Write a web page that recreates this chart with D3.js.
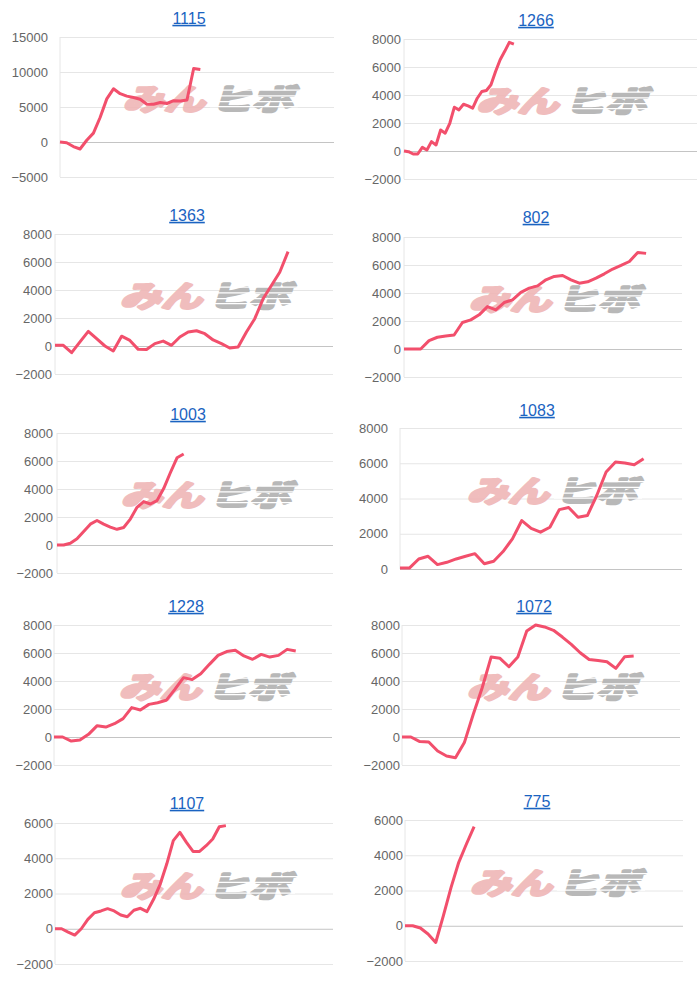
<!DOCTYPE html>
<html>
<head>
<meta charset="utf-8">
<script src="https://cdn.jsdelivr.net/npm/d3@7"></script>
<style>
  body { margin: 0; background: #fff; }
  svg { display: block; }
</style>
</head>
<body>
<svg id="frame" width="700" height="982"></svg>
<script>

// one series per stock (cumulative P/L)
const titles = ["1115", "1266", "1363", "802", "1003", "1083", "1228", "1072", "1107", "775"]

const s1115 = [0, -100, -650, -1000, 250, 1270, 3500, 6160, 7600, 6900, 6550, 6350, 6100, 5400, 5400, 5650, 5500, 5900, 5850, 6000, 10500, 10350]
const s1266 = [0, -50, -215, -215, 260, 70, 670, 430, 1500, 1270, 1980, 3130, 2940, 3340, 3220, 3060, 3770, 4250, 4320, 4730, 5680, 6520, 7120, 7760, 7640]
const s1363 = [50, 50, -475, 300, 1045, 520, 0, -360, 700, 400, -240, -250, 170, 350, 50, 640, 1000, 1090, 880, 430, 170, -140, -70, 1000, 1950, 3370, 4320, 5270, 6740]
const s802 = [0, 0, 0, 600, 840, 930, 1000, 1890, 2080, 2440, 3030, 2790, 3320, 3510, 4040, 4350, 4510, 4940, 5180, 5250, 4940, 4700, 4800, 5060, 5370, 5710, 5970, 6250, 6900, 6830]
const s1003 = [0, 0, 130, 450, 970, 1490, 1750, 1490, 1280, 1120, 1250, 1850, 2690, 3100, 2930, 3170, 4030, 5160, 6230, 6500]
const s1083 = [50, 50, 570, 720, 250, 380, 570, 720, 870, 300, 440, 990, 1710, 2750, 2310, 2090, 2370, 3370, 3490, 2940, 3030, 4170, 5500, 6070, 6010, 5920, 6260]
const s1228 = [0, 0, -290, -210, 190, 810, 710, 950, 1310, 2100, 1930, 2330, 2450, 2620, 3400, 4240, 4100, 4520, 5190, 5830, 6100, 6190, 5790, 5550, 5900, 5710, 5830, 6260, 6140]
const s1072 = [0, 0, -330, -360, -1000, -1360, -1480, -400, 1620, 3520, 5710, 5620, 5020, 5710, 7570, 8000, 7860, 7620, 7140, 6620, 6020, 5540, 5470, 5380, 4900, 5740, 5790]
const s1107 = [0, 0, -190, -360, 0, 530, 910, 1010, 1140, 1010, 780, 680, 1050, 1160, 970, 1670, 2520, 3670, 5000, 5470, 4900, 4390, 4390, 4710, 5090, 5790, 5850]
const s775 = [0, 0, -130, -470, -950, 570, 2180, 3600, 4640, 5620]

const series = [s1115, s1266, s1363, s802, s1003, s1083, s1228, s1072, s1107, s775]

// number of periods shown along each x axis
const xSpan = [41, 64, 33.4, 33.3, 41.4, 30.1, 32.2, 31.2, 42.3, 36.2]

const ticksA = [-5000, 0, 5000, 10000, 15000]
const ticksB = [-2000, 0, 2000, 4000, 6000, 8000]
const ticksC = [0, 2000, 4000, 6000, 8000]
const ticksD = [-2000, 0, 2000, 4000, 6000]
const tickSets = [ticksA, ticksB, ticksB, ticksB, ticksB, ticksC, ticksB, ticksB, ticksD, ticksD]

// layout: plot left, right, top, bottom, label right edge, title x, title y
var frames = [
  [60, 334, 37, 177, 48, 189, 18],
  [404, 697, 39, 179, 401, 536, 20],
  [55, 333, 234, 374, 52, 187, 215],
  [404, 682, 237, 377, 401, 536, 217],
  [57, 333, 433, 573, 53, 188, 414],
  [400, 682, 428, 569, 388, 537, 410],
  [54, 332, 625, 765, 52, 186, 606],
  [402, 680, 625, 765, 400, 534, 606],
  [55, 333, 823, 964, 53, 187, 803],
  [405, 683, 820, 961, 403, 537, 801]
]

var svg = d3.select('#frame')
var font = '"Liberation Sans", Arial, Helvetica, sans-serif'

series.forEach(function(vals, k) {
  var f = frames[k]
  var ticks = tickSets[k]

  var x = d3.scaleLinear()
    .domain([0, xSpan[k]])
    .range([f[0], f[1]])

  var y = d3.scaleLinear()
    .domain(d3.extent(ticks))
    .range([f[3], f[2]])

  var g = svg.append('g')

  // title (rendered as link)
  g.append('text')
    .attr('x', f[5])
    .attr('y', f[6])
    .attr('dy', '0.36em')
    .style('text-anchor', 'middle')
    .style('font-family', font)
    .style('font-size', '16px')
    .style('fill', '#1a63c1')
    .style('text-decoration', 'underline')
    .text(titles[k])

  // horizontal grid
  var yAxis = g.append('g')
    .attr('transform', `translate(${f[0]},0)`)
    .call(d3.axisLeft(y).tickValues(ticks).tickSize(-(f[1] - f[0])).tickFormat(d3.format('d')))

  yAxis.select('.domain').remove()
  yAxis.selectAll('line')
    .attr('stroke', d => d == 0 ? '#c4c4c4' : '#e6e6e6')
    .attr('stroke-width', 1)
  yAxis.selectAll('text')
    .attr('x', f[4] - f[0])
    .style('font-family', font)
    .style('font-size', '13px')
    .style('fill', '#666')

  // vertical axis line
  g.append('line')
    .attr('x1', f[0]).attr('x2', f[0])
    .attr('y1', y(d3.max(ticks))).attr('y2', y(d3.min(ticks)))
    .attr('stroke', '#e6e6e6')

  // watermark logo
  var cx = (f[0] + f[1]) / 2 + 10
  var cy = (f[2] + f[3]) / 2 - 10
  var wm = g.append('g')
    .attr('transform', `translate(${cx},${cy + 13}) scale(1,0.82) skewX(-14)`)
    .style('font-family', '"Noto Sans CJK JP", sans-serif')
    .style('font-weight', 700)
    .style('font-size', '36px')

  wm.append('text')
    .attr('x', -84)
    .attr('textLength', 82)
    .attr('lengthAdjust', 'spacingAndGlyphs')
    .style('fill', '#efb6b6')
    .style('stroke', '#efb6b6')
    .style('stroke-width', 3.5)
    .style('stroke-linejoin', 'round')
    .style('opacity', 0.9)
    .text('みん')

  wm.append('text')
    .attr('x', 4)
    .attr('textLength', 82)
    .attr('lengthAdjust', 'spacingAndGlyphs')
    .style('fill', '#b5b5b5')
    .style('stroke', '#b5b5b5')
    .style('stroke-width', 3.5)
    .style('stroke-linejoin', 'round')
    .style('opacity', 0.95)
    .text('ヒボ')

  // speed lines cut through the grey half
  ;[-25, -18, -11, -5].forEach(function(o) {
    wm.append('rect')
      .attr('x', 2).attr('y', o)
      .attr('width', 88).attr('height', 1.6)
      .attr('fill', '#fff')
  })

  // the series line
  var line = d3.line()
    .x((d, i) => x(i))
    .y(d => y(d))

  g.append('path')
    .datum(vals)
    .attr('d', line)
    .attr('fill', 'none')
    .attr('stroke', '#f24f6c')
    .attr('stroke-width', 3)
    .attr('stroke-linejoin', 'round')
})

</script>
</body>
</html>
